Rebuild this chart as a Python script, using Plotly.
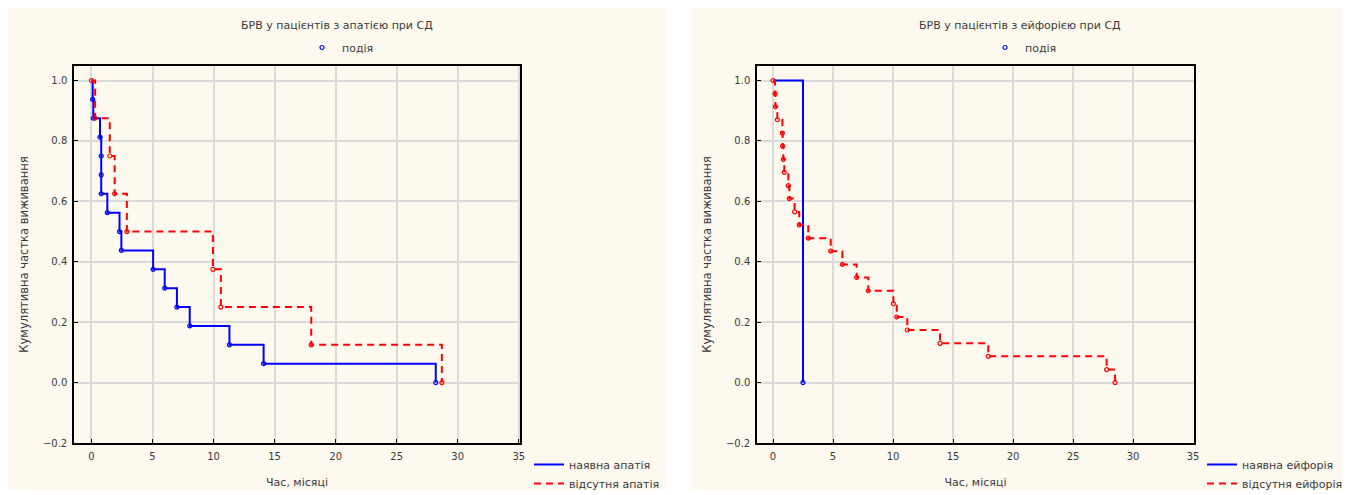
import plotly.graph_objects as go

# ---------------- data ----------------
# Left panel: апатія
apathy_yes_t = [0, 0.1, 0.15, 0.7, 0.8, 0.8, 0.8, 1.3, 2.3, 2.45, 5.05, 6.0, 7.0, 8.05, 11.3, 14.1, 28.2]
apathy_yes_s = [1.0, 0.9375, 0.875, 0.8125, 0.75, 0.6875, 0.625, 0.5625, 0.5, 0.4375, 0.375, 0.3125,
                0.25, 0.1875, 0.125, 0.0625, 0.0]
apathy_no_t = [0, 0.3, 1.5, 1.9, 2.9, 9.95, 10.6, 18.0, 28.7]
apathy_no_s = [1.0, 0.875, 0.75, 0.625, 0.5, 0.375, 0.25, 0.125, 0.0]

# Right panel: ейфорія
euph_yes_t = [0, 2.5]
euph_yes_s = [1.0, 0.0]
euph_no_t = [0, 0.17, 0.2, 0.36, 0.78, 0.8, 0.86, 0.94, 1.28, 1.36, 1.8, 2.19, 2.94, 4.81, 5.78,
             6.97, 7.94, 10.03, 10.31, 11.19, 13.92, 17.94, 27.8, 28.5]
euph_no_s = [1.0, 0.9565, 0.913, 0.870, 0.826, 0.783, 0.739, 0.696, 0.652, 0.609, 0.565, 0.522,
             0.478, 0.435, 0.391, 0.348, 0.304, 0.261, 0.217, 0.174, 0.130, 0.087, 0.043, 0.0]

titles = ["БРВ у пацієнтів з апатією при СД", "БРВ у пацієнтів з ейфорією при СД"]
names_yes = ["наявна апатія", "наявна ейфорія"]
names_no = ["відсутня апатія", "відсутня ейфорія"]
event_name = "подія"
x_title = "Час, місяці"
y_title = "Кумулятивна частка виживання"

# ---------------- figure ----------------
OX, OY = 8, 8                 # page body margin of the browser
W, H = 1350 - OX, 495 - OY    # figure size so it fits the window
FONT = "DejaVu Sans, Liberation Sans, Arial, sans-serif"
TXT = "#3a3a3a"
BLUE = "#0000ff"
RED = "#ff0000"
CREAM = "#fdf9ef"

def px_x(p):
    """screen pixel x -> paper fraction"""
    return max(0.0, (p - OX) / W)

def px_y(p):
    """screen pixel y -> paper fraction"""
    return min(1.0, 1 - (p - OY) / H)

fig = go.Figure()

panels = [
    dict(xa="x", ya="y", yes=(apathy_yes_t, apathy_yes_s), no=(apathy_no_t, apathy_no_s),
         leg="legend", evleg="legend3"),
    dict(xa="x2", ya="y2", yes=(euph_yes_t, euph_yes_s), no=(euph_no_t, euph_no_s),
         leg="legend2", evleg="legend4"),
]

for i, p in enumerate(panels):
    yt, ys = p["yes"]
    nt, ns = p["no"]
    fig.add_trace(go.Scatter(x=yt, y=ys, mode="lines", line=dict(color=BLUE, width=2, shape="hv"),
                             name=names_yes[i], xaxis=p["xa"], yaxis=p["ya"], legend=p["leg"]))
    fig.add_trace(go.Scatter(x=nt, y=ns, mode="lines",
                             line=dict(color=RED, width=2, shape="hv", dash="7px,5px"),
                             name=names_no[i], xaxis=p["xa"], yaxis=p["ya"], legend=p["leg"]))
    fig.add_trace(go.Scatter(x=yt[1:], y=ys[1:], mode="markers",
                             marker=dict(symbol="circle-open", size=4, color=BLUE, line=dict(width=1.2)),
                             name=event_name, xaxis=p["xa"], yaxis=p["ya"], legend=p["evleg"]))
    fig.add_trace(go.Scatter(x=nt, y=ns, mode="markers",
                             marker=dict(symbol="circle-open", size=4, color=RED, line=dict(width=1.2)),
                             name=event_name, showlegend=False, xaxis=p["xa"], yaxis=p["ya"]))

# plot areas in screen pixels
L1, R1 = 74, 520
L2, R2 = 757, 1194
T, B = 66, 443

axis_common = dict(showline=True, linecolor="black", linewidth=1.5, mirror=True,
                   ticks="inside", ticklen=4, tickcolor="black", automargin=False,
                   showgrid=True, gridcolor="#dadada", gridwidth=2, zeroline=False,
                   ticklabelstandoff=3,
                   tickfont=dict(family=FONT, size=10, color=TXT))

xt = dict(text=x_title, font=dict(size=11, color=TXT), standoff=18)
ytl = dict(text=y_title, font=dict(size=11.5, color=TXT), standoff=12)

fig.update_layout(
    width=W, height=H,
    margin=dict(l=0, r=0, t=0, b=0, autoexpand=False),
    paper_bgcolor="white",
    plot_bgcolor="white",
    font=dict(family=FONT, size=11, color=TXT),
    xaxis=dict(domain=[px_x(L1), px_x(R1)], range=[-1.43, 35.1], dtick=5, tick0=0, title=xt, **axis_common),
    yaxis=dict(domain=[px_y(B), px_y(T)], range=[-0.2, 1.048], dtick=0.2, tick0=0, tickformat=".1f",
               title=ytl, **axis_common),
    xaxis2=dict(domain=[px_x(L2), px_x(R2)], range=[-1.333, 35.08], dtick=5, tick0=0, anchor="y2",
                title=xt, **axis_common),
    yaxis2=dict(domain=[px_y(B), px_y(T)], range=[-0.2, 1.048], dtick=0.2, tick0=0, tickformat=".1f",
                anchor="x2", title=ytl, **axis_common),
    legend=dict(x=px_x(529), y=px_y(450), xanchor="left", yanchor="top", bgcolor="rgba(0,0,0,0)",
                font=dict(size=11, color=TXT), itemwidth=30, tracegroupgap=0),
    legend2=dict(x=px_x(1202), y=px_y(450), xanchor="left", yanchor="top", bgcolor="rgba(0,0,0,0)",
                 font=dict(size=11, color=TXT), itemwidth=30, tracegroupgap=0),
    legend3=dict(x=px_x(302), y=px_y(33), xanchor="left", yanchor="top", bgcolor="rgba(0,0,0,0)",
                 font=dict(size=11, color=TXT), itemwidth=30),
    legend4=dict(x=px_x(985), y=px_y(33), xanchor="left", yanchor="top", bgcolor="rgba(0,0,0,0)",
                 font=dict(size=11, color=TXT), itemwidth=30),
    shapes=[
        dict(type="rect", xref="paper", yref="paper", x0=px_x(7), x1=px_x(665), y0=px_y(490), y1=1,
             fillcolor=CREAM, line=dict(width=0), layer="below"),
        dict(type="rect", xref="paper", yref="paper", x0=px_x(692), x1=px_x(1345), y0=px_y(490), y1=1,
             fillcolor=CREAM, line=dict(width=0), layer="below"),
    ],
    annotations=[
        dict(text=titles[0], xref="paper", yref="paper", x=px_x(337), y=px_y(25), showarrow=False,
             xanchor="center", yanchor="middle", font=dict(size=11, color=TXT)),
        dict(text=titles[1], xref="paper", yref="paper", x=px_x(1020), y=px_y(25), showarrow=False,
             xanchor="center", yanchor="middle", font=dict(size=11, color=TXT)),
    ],
)

fig.write_html("out.html")
